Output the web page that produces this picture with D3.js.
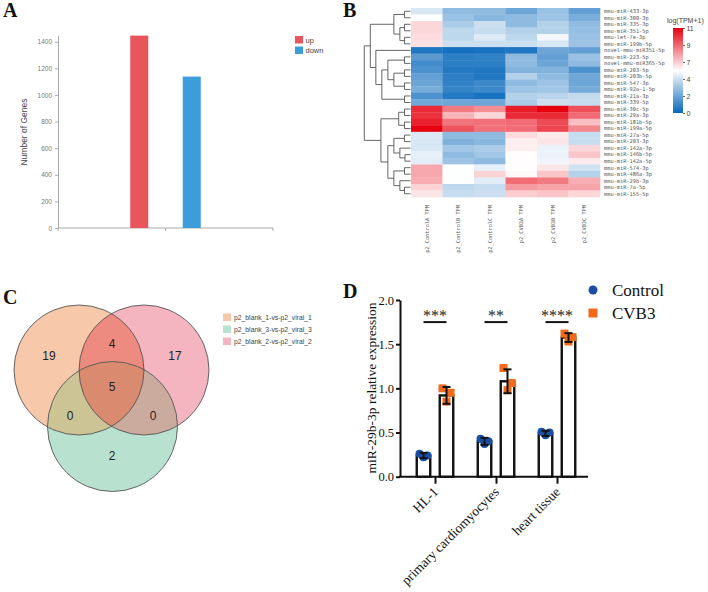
<!DOCTYPE html>
<html><head><meta charset="utf-8">
<script src="https://cdn.jsdelivr.net/npm/d3@7"></script>
<style>body{margin:0;background:#fff} svg{display:block}</style>
</head><body>
<svg id="c" width="708" height="592"></svg>
<script>
// ---------- Panel A data ----------
const degCats = ["up", "down"];
const degValues = [1446, 1138];
const degTicks = [0, 200, 400, 600, 800, 1000, 1200, 1400];

// ---------- Panel B data ----------
const mirnaNames = ["mmu-miR-433-3p","mmu-miR-300-3p","mmu-miR-335-3p","mmu-miR-351-5p","mmu-let-7e-3p","mmu-miR-199b-5p","novel-mmu-miR351-5p","mmu-miR-223-5p","novel-mmu-miR365-5p","mmu-miR-203-5p","mmu-miR-203b-5p","mmu-miR-547-3p","mmu-miR-92a-1-5p","mmu-miR-21a-3p","mmu-miR-339-5p","mmu-miR-30c-5p","mmu-miR-29a-3p","mmu-miR-181b-5p","mmu-miR-199a-5p","mmu-miR-27a-5p","mmu-miR-203-3p","mmu-miR-142a-3p","mmu-miR-146b-5p","mmu-miR-142a-5p","mmu-miR-574-3p","mmu-miR-486a-3p","mmu-miR-29b-3p","mmu-miR-7a-5p","mmu-miR-155-5p"];
const sampleNames = ["p2_ControlA TPM","p2_ControlB TPM","p2_ControlC TPM","p2_CVB3A TPM","p2_CVB3B TPM","p2_CVB3C TPM"];
const tpmRows = [
  [4.6,3.0,3.0,2.2,3.2,2.0],
  [5.4,3.2,2.8,3.0,3.3,2.5],
  [6.3,3.6,4.3,3.0,3.8,3.0],
  [6.3,4.0,4.2,3.8,3.8,3.1],
  [6.2,4.0,4.7,4.0,5.2,3.2],
  [6.1,4.3,4.3,4.3,4.6,3.3],
  [0.5,0.3,0.4,0.5,2.2,2.0],
  [1.8,0.8,0.9,3.0,2.0,3.2],
  [1.3,0.8,0.8,3.0,2.2,3.0],
  [1.5,0.6,0.5,2.7,2.7,1.5],
  [2.0,0.8,0.5,3.8,3.0,2.3],
  [2.2,0.9,1.2,3.0,3.3,2.2],
  [2.5,1.0,1.2,3.3,3.4,2.4],
  [1.5,0.6,0.4,3.8,3.9,4.1],
  [2.3,2.2,2.2,3.6,4.3,4.2],
  [10.0,8.3,7.9,10.3,10.9,9.2],
  [9.8,7.0,6.3,10.0,10.0,8.6],
  [10.2,8.4,8.5,8.6,9.3,6.8],
  [10.9,9.1,8.5,8.6,9.4,8.0],
  [4.7,3.0,3.0,6.2,5.9,4.2],
  [4.6,2.6,2.8,5.8,6.0,4.2],
  [4.6,3.4,3.6,5.8,5.0,6.3],
  [4.9,3.0,3.4,5.5,5.0,6.7],
  [4.8,3.3,3.0,5.5,5.1,5.9],
  [7.3,5.4,4.9,5.5,6.0,4.4],
  [7.3,5.4,6.4,5.6,6.7,3.8],
  [7.2,5.4,4.8,8.6,8.3,7.2],
  [6.4,4.0,4.2,7.6,7.4,7.4],
  [6.0,4.2,4.3,6.5,6.7,6.3]
];
const colorTickVals = [0, 2.18, 4.36, 6.54, 8.72, 10.9];
const colorTickLabels = ["0", "2", "4", "7", "9", "11"];
// dendrogram: [height, left, right]; leaves are row indices
const dendroTree = [10,
  [8.7,
    [3.6, [1.3,0,1], [2.3,[1.3,2,3],[1.3,4,5]]],
    [7.5, 6, [6.2, [4.9,[1.3,7,8],[3.6,[1.3,9,10],[1.3,11,12]]], [1.3,13,14]]]
  ],
  [6.4,
    [2.55,[1.3,15,16],[1.3,17,18]],
    [4.9,
      [3.6,[1.3,19,20],[2.3,21,[1.2,22,23]]],
      [3.6,[1.3,24,25],[2.3,26,[1.3,27,28]]]
    ]
  ]
];

// ---------- Panel C data ----------
const vennSets = ["p2_blank_1-vs-p2_viral_1", "p2_blank_3-vs-p2_viral_3", "p2_blank_2-vs-p2_viral_2"];
const vennRegions = ["1", "2", "3", "12", "13", "23", "123"];
const vennCounts = [19, 17, 2, 4, 0, 0, 5];

// ---------- Panel D data ----------
const cellTypes = ["HL-1", "primary cardiomyocytes", "heart tissue"];
const groupNames = ["Control", "CVB3"];
const controlMeans = [0.24, 0.40, 0.49];
const cvb3Means = [0.92, 1.08, 1.575];
const controlSD = [0.03, 0.04, 0.03];
const cvb3SD = [0.095, 0.135, 0.05];
const controlPoints = [[0.26, 0.24, 0.22], [0.43, 0.40, 0.37], [0.51, 0.50, 0.47]];
const cvb3Points = [[1.00, 0.95, 0.85], [1.23, 1.06, 0.98], [1.62, 1.58, 1.53]];
const sigLabels = ["***", "**", "****"];
const sigLevel = 1.75;
const dTicks = [0, 0.5, 1.0, 1.5, 2.0];

const svg = d3.select("#c");
const serif = "'Liberation Serif','Times New Roman',serif";
const sans = "'Liberation Sans',Arial,sans-serif";
const mono = "'DejaVu Sans Mono','Liberation Mono',monospace";

// Panel letters
[["A",3,17],["B",343,17],["C",3,304],["D",343,298]].forEach(([t,x,y]) => {
  svg.append("text").attr("x",x).attr("y",y).text(t)
    .attr("font-family",serif).attr("font-weight","bold").attr("font-size",20).attr("fill","#111");
});

// ================= Panel A =================
(function(){
  const g = svg.append("g");
  const y = d3.scaleLinear().domain([0, d3.max(degValues)]).range([228, 35.6]);
  const x = d3.scaleBand().domain(degCats).range([58, 273]).paddingInner(0.657).paddingOuter(1.376);
  const colors = {up:"#e8555b", down:"#3c9ddb"};
  const axisCol = "#aaa";
  const ya = d3.axisLeft(y).tickValues(degTicks).tickFormat(d3.format("d")).tickSize(3).tickSizeOuter(0);
  const yg = g.append("g").attr("transform","translate(58,0)").call(ya);
  yg.select(".domain").attr("stroke",axisCol);
  yg.selectAll(".tick line").attr("stroke",axisCol);
  yg.selectAll("text").attr("font-family",sans).attr("font-size",6.5).attr("fill","#777");
  // x axis
  const [x0,x1] = x.range();
  g.append("line").attr("x1",x0).attr("x2",x1).attr("y1",228).attr("y2",228).attr("stroke",axisCol);
  [x0,(x0+x1)/2,x1].forEach(px => g.append("line").attr("x1",px).attr("x2",px).attr("y1",228).attr("y2",231).attr("stroke",axisCol));
  g.selectAll("rect.bar").data(degCats).join("rect").attr("class","bar")
    .attr("x",d=>x(d)).attr("width",x.bandwidth())
    .attr("y",(d,i)=>y(degValues[i])).attr("height",(d,i)=>228-y(degValues[i]))
    .attr("fill",d=>colors[d]);
  g.append("text").attr("transform","translate(27,132) rotate(-90)").attr("text-anchor","middle")
    .attr("font-family",sans).attr("font-size",8.5).attr("fill","#444").text("Number of Genes");
  degCats.forEach((c,i) => {
    g.append("rect").attr("x",295).attr("y",36+i*10.5).attr("width",8).attr("height",7.5).attr("fill",colors[c]);
    g.append("text").attr("x",305.5).attr("y",42.5+i*10.5).attr("font-family",sans).attr("font-size",7.5).attr("fill","#444").text(c);
  });
})();

// ================= Panel B =================
(function(){
  const g = svg.append("g");
  const x = d3.scaleBand().domain(sampleNames).range([411, 600]);
  const y = d3.scaleBand().domain(mirnaNames).range([8, 197]);
  const color = d3.scaleLinear().domain([0, 5.45, 10.9]).range(["#0868bb", "#ffffff", "#e6000f"]).clamp(true);
  tpmRows.forEach((row, ri) => {
    g.selectAll(null).data(row).join("rect")
      .attr("x",(d,ci)=>x(sampleNames[ci])).attr("y",y(mirnaNames[ri]))
      .attr("width",x.bandwidth()+0.3).attr("height",y.bandwidth()+0.3)
      .attr("fill",d=>color(d));
  });
  // row labels
  g.selectAll("text.rl").data(mirnaNames).join("text").attr("class","rl")
    .attr("x",604).attr("y",d=>y(d)+y.bandwidth()/2).attr("dy","0.35em")
    .attr("font-family",mono).attr("font-size",5.3).attr("fill","#555").text(d=>d);
  // column labels
  g.selectAll("text.cl").data(sampleNames).join("text").attr("class","cl")
    .attr("transform",d=>`translate(${x(d)+x.bandwidth()/2+1.8},205) rotate(-90)`)
    .attr("text-anchor","end")
    .attr("font-family",mono).attr("font-size",5.3).attr("fill","#555").text(d=>d);
  // dendrogram
  const hx = d3.scaleLinear().domain([0, 10]).range([410.5, 364.3]);
  function layout(node){
    if (typeof node === "number") return {x: hx(0), y: y(mirnaNames[node]) + y.bandwidth()/2};
    const a = layout(node[1]), b = layout(node[2]);
    const nx = hx(node[0]);
    g.append("path").attr("d",`M${a.x},${a.y}H${nx}V${b.y}H${b.x}`)
      .attr("fill","none").attr("stroke","#555").attr("stroke-width",0.9);
    return {x: nx, y: (a.y + b.y)/2};
  }
  layout(dendroTree);
  // color legend
  const defs = svg.append("defs");
  const grad = defs.append("linearGradient").attr("id","hmgrad").attr("x1",0).attr("y1",1).attr("x2",0).attr("y2",0);
  color.domain().forEach((v,i) => grad.append("stop").attr("offset", v/10.9).attr("stop-color", color.range()[i]));
  const ly = d3.scaleLinear().domain([0, 10.9]).range([113, 28]);
  g.append("rect").attr("x",673).attr("y",28).attr("width",10).attr("height",85).attr("fill","url(#hmgrad)");
  const la = d3.axisRight(ly).tickValues(colorTickVals).tickFormat((d,i)=>colorTickLabels[i]).tickSize(2).tickPadding(1.5);
  const lg = g.append("g").attr("transform","translate(683,0)").call(la);
  lg.select(".domain").remove();
  lg.selectAll(".tick line").attr("stroke","#666");
  lg.selectAll("text").attr("font-family",sans).attr("font-size",7).attr("fill","#444");
  g.append("text").attr("x",667).attr("y",23).attr("font-family",sans).attr("font-size",7).attr("fill","#444").text("log(TPM+1)");
})();

// ================= Panel C =================
(function(){
  const g = svg.append("g");
  const r = 65;
  const circles = [
    {cx: 79, cy: 370, fill: "#f7c8aa"},
    {cx: 144, cy: 370, fill: "#f4b5c0"},
    {cx: 112.5, cy: 426.5, fill: "#b9e1cf"}
  ];
  const defs = svg.append("defs");
  circles.forEach((c,i) => defs.append("clipPath").attr("id","vc"+i).append("circle").attr("cx",c.cx).attr("cy",c.cy).attr("r",r));
  circles.forEach(c => g.append("circle").attr("cx",c.cx).attr("cy",c.cy).attr("r",r).attr("fill",c.fill));
  // pairwise overlaps
  const pairFill = {"01":"#ee8b80", "02":"#cdc495", "12":"#ccab9f"};
  [[0,1],[0,2],[1,2]].forEach(([a,b]) => {
    g.append("g").attr("clip-path",`url(#vc${a})`).append("circle")
      .attr("cx",circles[b].cx).attr("cy",circles[b].cy).attr("r",r).attr("fill",pairFill[`${a}${b}`]);
  });
  g.append("g").attr("clip-path","url(#vc0)").append("g").attr("clip-path","url(#vc1)")
    .append("circle").attr("cx",circles[2].cx).attr("cy",circles[2].cy).attr("r",r).attr("fill","#da8b6f");
  circles.forEach(c => g.append("circle").attr("cx",c.cx).attr("cy",c.cy).attr("r",r)
    .attr("fill","none").attr("stroke","#555").attr("stroke-width",0.9));
  // region labels (set 1 = circle 0, set 2 = circle 1, set 3 = circle 2)
  const regionPos = {"1":[49,360],"2":[175,360],"3":[112,460],"12":[112,348],"13":[70,420],"23":[153,420],"123":[112,391]};
  vennRegions.forEach((k,i) => {
    g.append("text").attr("x",regionPos[k][0]).attr("y",regionPos[k][1]).attr("text-anchor","middle")
      .attr("font-family",sans).attr("font-size",12).attr("fill","#222").text(vennCounts[i]);
  });
  const legFill = ["#f7c8aa", "#b9e1cf", "#f4b5c0"];
  vennSets.forEach((s,i) => {
    g.append("rect").attr("x",223).attr("y",313.5+i*12).attr("width",8).attr("height",7.5).attr("fill",legFill[i]);
    g.append("text").attr("x",234).attr("y",320+i*12).attr("font-family",sans).attr("font-size",6.8).attr("fill","#444").text(s);
  });
})();

// ================= Panel D =================
(function(){
  const g = svg.append("g");
  const y = d3.scaleLinear().domain([0, 2]).range([476.7, 300]);
  const x = d3.scalePoint().domain(cellTypes).range([435, 557]);
  const off = 11.5, bw = 13.5;
  const blue = "#1a4fa3", orange = "#f26b1d";
  const ya = d3.axisLeft(y).tickValues(dTicks).tickFormat(d3.format(".1f")).tickSize(4).tickPadding(2).tickSizeOuter(0);
  const yg = g.append("g").attr("transform","translate(400,0)").call(ya);
  yg.select(".domain").attr("stroke","#111").attr("stroke-width",2);
  yg.selectAll(".tick line").attr("stroke","#111").attr("stroke-width",2);
  yg.selectAll("text").attr("font-family",serif).attr("font-size",12.5).attr("fill","#111");
  g.append("line").attr("x1",399).attr("x2",588).attr("y1",y(0)).attr("y2",y(0)).attr("stroke","#111").attr("stroke-width",2);
  const xa = d3.axisBottom(x).tickSize(7).tickFormat("");
  const xg = g.append("g").attr("transform",`translate(0,${y(0)})`).call(xa);
  xg.select(".domain").remove();
  xg.selectAll(".tick line").attr("stroke","#111").attr("stroke-width",2);
  cellTypes.forEach((c,i) => {
    g.append("text").attr("transform",`translate(${x(c)+4},${y(0)+16}) rotate(-45)`).attr("text-anchor","end")
      .attr("font-family",serif).attr("font-size",13.5).attr("fill","#111").text(c);
  });
  g.append("text").attr("transform","translate(376,388) rotate(-90)").attr("text-anchor","middle")
    .attr("font-family",serif).attr("font-size",13.5).attr("fill","#111").text("miR-29b-3p relative expression");

  const series = [
    {means: controlMeans, sd: controlSD, pts: controlPoints, dx: -off},
    {means: cvb3Means, sd: cvb3SD, pts: cvb3Points, dx: off}
  ];
  const jitter = [-4, 4, 0];
  series.forEach((s, si) => {
    cellTypes.forEach((c, i) => {
      const cx = x(c) + s.dx;
      g.append("rect").attr("x",cx-bw/2).attr("y",y(s.means[i])).attr("width",bw).attr("height",y(0)-y(s.means[i]))
        .attr("fill","#fff").attr("stroke","#111").attr("stroke-width",2.4);
      s.pts[i].forEach((v,k) => {
        if (si === 0) g.append("circle").attr("cx",cx+jitter[k]).attr("cy",y(v)).attr("r",4).attr("fill",blue);
        else g.append("rect").attr("x",cx+jitter[k]-4).attr("y",y(v)-4).attr("width",8).attr("height",8).attr("fill",orange);
      });
      const lo = y(s.means[i]-s.sd[i]), hi = y(s.means[i]+s.sd[i]);
      g.append("line").attr("x1",cx).attr("x2",cx).attr("y1",lo).attr("y2",hi).attr("stroke","#111").attr("stroke-width",2);
      [lo,hi].forEach(py => g.append("line").attr("x1",cx-4).attr("x2",cx+4).attr("y1",py).attr("y2",py).attr("stroke","#111").attr("stroke-width",2));
    });
  });
  cellTypes.forEach((c,i) => {
    g.append("line").attr("x1",x(c)-off).attr("x2",x(c)+off).attr("y1",y(sigLevel)).attr("y2",y(sigLevel))
      .attr("stroke","#111").attr("stroke-width",2);
    g.append("text").attr("x",x(c)).attr("y",y(sigLevel)-1).attr("text-anchor","middle")
      .attr("font-family",serif).attr("font-size",16).attr("fill","#222").text(sigLabels[i]);
  });
  // legend
  g.append("circle").attr("cx",593).attr("cy",290).attr("r",4.5).attr("fill",blue);
  g.append("rect").attr("x",588.5).attr("y",308.5).attr("width",9).attr("height",9).attr("fill",orange);
  groupNames.forEach((n,i) => g.append("text").attr("x",612).attr("y",296+i*23)
    .attr("font-family",serif).attr("font-size",17).attr("fill","#111").text(n));
})();
</script>
</body></html>
